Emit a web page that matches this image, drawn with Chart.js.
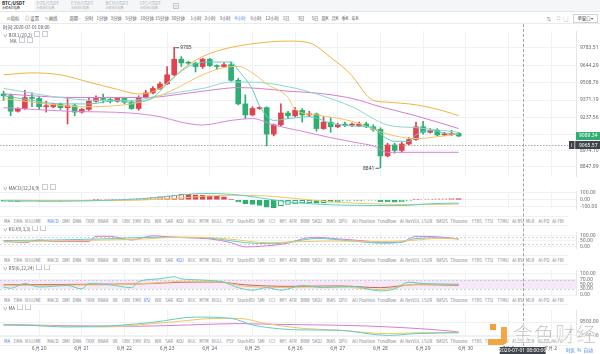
<!DOCTYPE html>
<html lang="zh">
<head>
<meta charset="utf-8">
<title>BTC/USDT 4小时</title>
<script src="https://cdn.jsdelivr.net/npm/chart.js@4.4.1/dist/chart.umd.min.js"></script>
<style>
  body { margin: 0; width: 600px; height: 354px; overflow: hidden; position: relative; background: #fff;
         font-family: "Noto Sans CJK SC", "Noto Sans", sans-serif; color: #333; }
  canvas { position: absolute; left: 0; }
  .abs { position: absolute; white-space: nowrap; }
  #tabs { left: 0; top: 0; width: 600px; height: 11px; background: #f5f6f8; border-bottom: 1px solid #e4e6ea; }
  .tab { position: absolute; top: 0; width: 34px; height: 11px; padding-left: 2px; box-sizing: border-box; color: #a8adb4; }
  .tab b { display: block; font-size: 4.6px; line-height: 5px; font-weight: normal; margin-top: 1px; }
  .tab i { display: block; font-size: 3px; line-height: 4px; font-style: normal; }
  .tab.on { background: #fff; color: #222; }
  .tab.on b { font-weight: bold; }
  #tools { left: 0; top: 12px; width: 600px; height: 11px; border-bottom: 1px solid #e9ebee; }
  #tools span { position: absolute; top: 2.5px; font-size: 4.3px; line-height: 6px; color: #555; transform: translateX(-50%); }
  #tools span.on { color: #3d7fe0; }
  .row { left: 0; width: 568px; height: 8px; background: #fff; border-top: 1px solid #eef0f2; border-bottom: 1px solid #eef0f2; }
  .row span { position: absolute; top: 1px; font-size: 4.2px; line-height: 6px; color: #7d838c; transform: translateX(-50%); }
  .row span.on { color: #3d7fe0; }
  .hd { left: 3px; font-size: 4.6px; line-height: 6px; color: #555; }
  .ic { display: inline-block; width: 4px; height: 4px; border: 0.5px solid #c8cbd0; margin-left: 2px; vertical-align: -0.5px; }
</style>
</head>
<body>

<div id="tabs" class="abs"></div>
<div id="tools" class="abs"></div>

<canvas id="mainChart" width="600" height="159" style="top:24px"></canvas>
<canvas id="macdChart" width="600" height="32" style="top:184px"></canvas>
<canvas id="kdjChart" width="600" height="30" style="top:225px"></canvas>
<canvas id="rsiChart" width="600" height="39" style="top:263px"></canvas>
<canvas id="maChart" width="600" height="51" style="top:303px"></canvas>

<div class="abs hd" style="top:24px">时间:2020-07-01 08:00</div>
<div class="abs hd" style="top:30.5px">∨ BOLL(20,2)<span class="ic"></span><span class="ic"></span></div>
<div class="abs hd" style="top:37px;left:10px">MA<span class="ic"></span><span class="ic"></span></div>
<div class="abs hd" style="top:183.5px">∨ MACD(12,26,9)<span class="ic"></span><span class="ic"></span></div>
<div class="abs hd" style="top:224.5px">∨ KDJ(9,3,3)<span class="ic"></span><span class="ic"></span></div>
<div class="abs hd" style="top:263.5px">∨ RSI(6,12,24)<span class="ic"></span><span class="ic"></span></div>
<div class="abs hd" style="top:304px">∨ MA<span class="ic"></span><span class="ic"></span></div>

<div class="abs row" id="row1" style="top:216px"></div>
<div class="abs row" id="row2" style="top:255px"></div>
<div class="abs row" id="row3" style="top:295px"></div>
<div class="abs row" id="row4" style="top:336px"></div>

<div id="crossLine" class="abs" style="top:24px;height:322px;border-left:1px dashed #9da2a9"></div>

<!-- watermark -->
<div class="abs" style="left:490px;top:324px;width:6px;height:6px;background:#f2a23a"></div>
<div class="abs" style="left:488px;top:327px;width:13px;height:12px;border-right:6px solid #f2a23a;border-bottom:6px solid #f2a23a;border-bottom-right-radius:5px;opacity:.95"></div>
<div class="abs" style="left:513px;top:321px;font-size:20px;line-height:26px;color:rgba(175,175,175,.85);-webkit-text-stroke:0.6px #fff;letter-spacing:1px">金色财经</div>
<div class="abs" style="left:566px;top:347px;font-size:4.6px;color:#3d7fe0">时区 &nbsp;% &nbsp;自动</div>

<script>
// candles, 4 hour, BTC/USDT
const opens  = [9419,9405,9284,9305,9391,9384,9319,9319,9341,9312,9327,9277,9298,9362,9380,9376,9362,9384,9355,9305,
                9391,9427,9462,9498,9569,9691,9662,9660,9634,9691,9641,9634,9648,9526,9341,9255,9305,9312,9105,9177,
                9270,9248,9291,9255,9262,9148,9198,9162,9177,9175,9169,9184,9162,9141,8934,9020,8977,9027,9062,9162,
                9119,9134,9098,9102,9110];
const highs  = [9441,9419,9312,9448,9427,9398,9362,9348,9348,9391,9341,9305,9391,9405,9419,9384,9391,9391,9369,9405,
                9448,9476,9512,9634,9785,9712,9676,9669,9698,9698,9648,9662,9669,9541,9412,9319,9319,9319,9184,9341,
                9284,9312,9305,9284,9270,9241,9234,9191,9198,9191,9198,9198,9177,9155,9034,9034,9041,9077,9198,9205,
                9148,9148,9119,9134,9119];
const lows   = [9369,9248,9277,9298,9319,9298,9277,9312,9298,9184,9248,9270,9291,9355,9348,9348,9355,9341,9298,9291,
                9384,9419,9455,9491,9562,9634,9648,9591,9619,9634,9612,9626,9519,9334,9227,9248,9298,9012,9091,9169,
                9227,9241,9198,9241,9127,9141,9119,9155,9162,9162,9162,9155,9127,8841,8927,8955,8962,9020,9055,9105,
                9112,9091,9091,9091,9085];
const closes = [9405,9284,9305,9391,9384,9319,9323,9341,9312,9327,9277,9298,9362,9384,9376,9362,9384,9355,9305,9391,
                9427,9462,9498,9569,9691,9662,9660,9634,9691,9641,9634,9648,9526,9341,9255,9305,9312,9105,9177,9270,
                9248,9291,9255,9262,9148,9198,9162,9177,9175,9176,9184,9162,9141,8934,9020,8977,9027,9062,9162,9119,
                9134,9098,9102,9110,9089.34];

// overlay lines on the price panel: [candle index, price]
const bollUp  = [[0,9569],[4,9584],[8,9569],[12,9512],[16,9455],[19,9419],[22,9462],[24,9555],[26,9648],[28,9712],
                 [30,9755],[32,9784],[36,9819],[40,9833],[43,9819],[46,9705],[49,9562],[51,9412],[52,9369],[54,9355],
                 [58,9334],[62,9284],[64,9248]];
const bollMid = [[0,9419],[10,9391],[20,9391],[26,9426],[30,9455],[33,9469],[36,9462],[40,9441],[44,9426],[49,9384],
                 [53,9319],[58,9248],[64,9148]];
const bollLow = [[0,9312],[9,9284],[18,9269],[22,9241],[25,9198],[28,9176],[32,9212],[35,9226],[38,9176],[42,9127],
                 [46,9077],[50,9034],[52,9012],[54,8962],[58,8962],[64,8962]];
const maFast  = [[0,9405],[4,9369],[8,9341],[12,9341],[16,9369],[18,9355],[21,9391],[23,9498],[26,9634],[29,9669],
                 [32,9669],[33,9605],[35,9455],[36,9326],[38,9212],[40,9226],[43,9241],[46,9191],[49,9169],[52,9155],
                 [53,9105],[55,9048],[57,9048],[58,9098],[60,9134],[62,9112],[64,9105]];
const maMid   = [[0,9384],[5,9348],[11,9319],[18,9341],[21,9384],[24,9455],[28,9569],[31,9626],[33,9634],[35,9584],
                 [37,9498],[40,9391],[41,9298],[44,9255],[49,9205],[54,9105],[58,9069],[61,9084],[64,9105]];
const maSlow  = [[0,9462],[9,9384],[14,9369],[18,9369],[23,9419],[28,9462],[32,9512],[35,9512],[40,9476],[44,9419],
                 [49,9319],[54,9176],[58,9155],[64,9119]];

// MACD(12,26,9)
const macdHist = [-18,-22,-24,-20,-16,-20,-18,-16,-20,-16,-12,-8,-3,4,8,10,12,10,14,20,
                  26,34,42,54,66,80,78,70,64,58,50,44,8,-28,-56,-66,-80,-104,-112,-84,
                  -64,-56,-44,-40,-48,-40,-32,-24,-16,-12,-10,-8,-6,-24,-28,-32,-26,-14,4,8,
                  12,14,16,18,17];
const macdDif = [[0,-15],[8,-20],[16,0],[20,20],[24,60],[28,90],[32,80],[36,30],[40,-30],[44,-60],[48,-75],[52,-80],[56,-80],[60,-55],[64,-45]];
const macdDea = [[0,-5],[8,-10],[16,-10],[20,0],[24,20],[28,50],[32,65],[36,60],[40,30],[44,-10],[48,-40],[52,-55],[56,-65],[60,-65],[64,-60]];

// KDJ(9,3,3)
const kdjK = [[0,38],[7,48],[14,57],[20,67],[24,81],[28,81],[33,57],[37,33],[42,43],[47,48],[53,43],[58,57],[61,71],[64,67]];
const kdjD = [[0,52],[7,57],[14,67],[21,81],[26,81],[30,67],[34,33],[38,24],[42,57],[44,71],[49,48],[53,29],[56,38],[58,71],[61,76],[64,67]];
const kdjJ = [[0,48],[3,33],[5,57],[7,43],[12,43],[13,90],[15,90],[18,57],[21,95],[23,86],[26,76],[29,67],[32,33],[34,-5],
              [37,5],[40,29],[42,67],[44,81],[47,67],[51,48],[53,33],[56,38],[57,67],[58,90],[61,86],[64,67]];

// RSI(6,12,24)
const rsi6  = [[0,37],[1,31],[3,53],[5,37],[9,44],[11,28],[12,53],[15,47],[18,34],[19,62],[22,75],[24,84],[25,75],[28,69],
               [31,59],[33,34],[35,22],[37,34],[39,22],[42,44],[45,34],[49,40],[53,19],[55,28],[57,59],[59,53],[64,50]];
const rsi12 = [[0,44],[14,47],[20,53],[25,62],[30,62],[34,40],[40,35],[47,38],[53,25],[58,50],[64,48]];
const rsi24 = [[0,47],[14,50],[20,52],[25,59],[30,60],[34,47],[40,40],[47,42],[53,34],[58,48],[64,45]];

// lower MA panel
const maTeal   = [[0,9391],[4,9373],[9,9315],[16,9373],[21,9491],[27,9685],[32,9638],[35,9391],[39,9244],[42,9206],[47,9197],[54,9000],[58,9068],[64,9097]];
const maYellow = [[0,9391],[9,9344],[14,9315],[19,9391],[25,9538],[30,9638],[33,9638],[37,9441],[42,9265],[47,9197],[54,9068],[58,9097],[64,9118]];
const maPink   = [[0,9412],[9,9362],[19,9344],[26,9391],[33,9441],[37,9420],[42,9400],[51,9353],[61,9206],[64,9127]];

// axis ticks
const mainTicks = [9783.51, 9644.29, 9508.76, 9371.19, 9237.56, 9103.45, 8974.10, 8847.99];
const macdTicks = [100, 0, -100];
const kdjTicks  = [100, 50, 0];
const rsiTicks  = [100, 70, 50, 30, 0];
const maTicks   = [9500, 9000];
const dayIdx    = [5, 11, 17, 23, 29, 35, 41, 47, 53, 59, 65, 71, 77];
const dayLabels = ['6月 20','6月 21','6月 22','6月 23','6月 24','6月 25','6月 26','6月 27','6月 28','6月 29','6月 30','7月 1','7月 2'];

// crosshair
const crossIdx = 73;
const crossLevel = 9020;          // where the dotted price line sits
const crossText = '9065.57';
const crossTime = '2020-07-01 08:00:00';

const RED = '#e0434f', GREEN = '#2fae74';
const TEAL = '#5fcfc2', YELLOW = '#f3c462', ORANGE = '#f2b243', PINK = '#d985d8', MAGENTA = '#d77bd6', BROWN = '#c9645c';

Chart.defaults.font.family = '"Noto Sans", sans-serif';
Chart.defaults.animation = false;
Chart.defaults.events = [];
Chart.defaults.plugins.legend.display = false;
Chart.defaults.plugins.tooltip.enabled = false;

// header tabs + toolbar
const tabNames = ['BTC/USDT', 'EOS/USDT', 'ETH/USDT', 'BCH/USDT', 'LTC/USDT'];
document.getElementById('tabs').innerHTML = tabNames.map((n, i) =>
  `<div class="tab${i === 0 ? ' on' : ''}" style="left:${i * 34.5}px"><b>${n}</b><i>永续合约指数</i></div>`).join('') +
  '<div class="abs" style="left:173px;top:3px;width:4px;height:4px;border:0.5px solid #c3c6cb;font-size:4px;line-height:4px;text-align:center;color:#999">×</div>';

const toolItems = [['⊡ 指标',13],['◎ 设置',32],['✎ 画线',51],['周期 -',75],['分时',89],['1分钟',102],['3分钟',116],['5分钟',131],
  ['10分钟',147],['15分钟',162],['30分钟',178],['1小时',196],['2小时',210],['3小时',225],['4小时',240],['6小时',256],
  ['12小时',272],['1日',286],['3日',301],['5日',315],['周K',325],['月K',335],['季K',345],['年K',355],
  ['⇅',549],['⛶',558],['▢',566]];
document.getElementById('tools').innerHTML = toolItems.map(t =>
  `<span class="${t[0] === '4小时' ? 'on' : ''}" style="left:${t[1]}px">${t[0]}</span>`).join('') +
  '<div class="abs" style="left:573px;top:2px;width:23px;height:7px;border:0.5px solid #cfd2d6;font-size:4.3px;line-height:7px;text-align:center;color:#444">单窗口 ▾</div>';

// indicator switch rows
const indNames = ['MA','EMA','VOLUME','MACD','DMI','DMA','TRIX','BRAR','VR','OBV','EMV','RSI','WR','SAR','KDJ','ROC','MTM',
  'BOLL','PSY','StochRSI','SMI','CCI','MFI','ATR','BBW','SKDJ','BIAS','DPO','AO','Position','Fundflow','AI-NetVOL',
  'LSUR','BASIS','TVolume','FTBS','TTSI','TTMU','AI-BSI','MLR','AI-PD','AI-FBI'];
const indPos = [7,18,33,53,66,77,90,103,115,126,137,147,158,169,180,192,204,217,230,246,261,272,283,293,
  305,317,331,343,355,367,387,410,427,442,459,477,489,503,518,530,544,558];
[['row1','MACD'],['row2','KDJ'],['row3','RSI'],['row4','MA']].forEach(([id, act]) => {
  document.getElementById(id).innerHTML = indNames.map((n, i) =>
    `<span class="${n === act ? 'on' : ''}" style="left:${indPos[i]}px">${n}</span>`).join('');
});

// shared helpers
function xAxis(showDates) {
  return {
    type: 'linear', min: -0.5, max: 80.5, offset: false,
    afterBuildTicks: s => { s.ticks = dayIdx.map(v => ({ value: v })); },
    afterFit: s => { s.height = showDates ? 17 : 0; },
    ticks: { display: showDates, autoSkip: false, maxRotation: 0, padding: 9,
             callback: v => dayLabels[dayIdx.indexOf(v)], font: { size: 5 }, color: '#666' },
    grid: { color: '#f0f1f4', drawTicks: false, offset: false },
    border: { display: false }
  };
}
function yAxis(min, max, ticks) {
  return {
    position: 'right', min: min, max: max,
    afterFit: s => { s.width = 24; },
    afterBuildTicks: s => { s.ticks = ticks.map(v => ({ value: v })); },
    ticks: { autoSkip: false, padding: 4, callback: v => v.toFixed(2), font: { size: 5 }, color: '#666' },
    grid: { color: '#f0f1f4', drawTicks: false },
    border: { display: true, color: '#e4e6e9' }
  };
}
function line(pts, color) {
  return { type: 'line', data: pts.map(p => ({ x: p[0], y: p[1] })), borderColor: color, borderWidth: 1,
           pointRadius: 0, cubicInterpolationMode: 'monotone', fill: false, order: 0 };
}

// dashed guide lines / shaded band in oscillator panels
const levels = {
  id: 'levels',
  beforeDatasetsDraw(chart, args, opts) {
    if (!opts.lines) return;
    const { ctx, chartArea: a, scales: { y } } = chart;
    ctx.save();
    if (opts.band) {
      const t = y.getPixelForValue(opts.band[1]), b = y.getPixelForValue(opts.band[0]);
      ctx.fillStyle = '#f6e7f9';
      ctx.fillRect(a.left, t, a.right - a.left, b - t);
    }
    ctx.strokeStyle = '#c4c8ce'; ctx.lineWidth = 0.8; ctx.setLineDash([2, 2]);
    opts.lines.forEach(v => {
      const py = Math.round(y.getPixelForValue(v)) + 0.5;
      ctx.beginPath(); ctx.moveTo(a.left, py); ctx.lineTo(a.right, py); ctx.stroke();
    });
    ctx.restore();
  }
};

// price panel extras: high/low notes, price line, right-axis price tags
const priceMarks = {
  id: 'priceMarks',
  afterDraw(chart) {
    const { ctx, chartArea: a, scales: { x, y } } = chart;
    ctx.save();
    ctx.font = '5px "Noto Sans", sans-serif';
    ctx.textBaseline = 'middle';

    const hi = Math.max(...highs), hiI = highs.indexOf(hi);
    const lo = Math.min(...lows), loI = lows.indexOf(lo);
    let px = x.getPixelForValue(hiI), py = y.getPixelForValue(hi);
    ctx.strokeStyle = '#333'; ctx.lineWidth = 0.8;
    ctx.beginPath(); ctx.moveTo(px + 1, py + 0.5); ctx.lineTo(px + 5, py + 0.5); ctx.stroke();
    ctx.fillStyle = '#333'; ctx.textAlign = 'left';
    ctx.fillText(String(Math.round(hi)), px + 6, py + 0.5);
    px = x.getPixelForValue(loI); py = y.getPixelForValue(lo);
    ctx.beginPath(); ctx.moveTo(px - 5, py + 0.5); ctx.lineTo(px - 1, py + 0.5); ctx.stroke();
    ctx.textAlign = 'right';
    ctx.fillText(String(Math.round(lo)), px - 6, py + 0.5);

    // dotted price line
    const cy = Math.round(y.getPixelForValue(crossLevel)) + 0.5;
    ctx.strokeStyle = '#8f949b'; ctx.setLineDash([1.5, 1.5]);
    ctx.beginPath(); ctx.moveTo(a.left, cy); ctx.lineTo(a.right, cy); ctx.stroke();
    ctx.setLineDash([]);

    // last price tag
    const last = closes[closes.length - 1];
    const ly = y.getPixelForValue(last);
    ctx.fillStyle = GREEN; ctx.fillRect(a.right, ly - 4, 24, 8);
    ctx.fillStyle = '#fff'; ctx.textAlign = 'left';
    ctx.fillText(last.toFixed(2), a.right + 3, ly);

    // crosshair price tag
    ctx.fillStyle = '#3f434a'; ctx.fillRect(a.right - 7, cy - 4.5, 31, 8);
    ctx.fillStyle = '#fff'; ctx.fillRect(a.right - 1.5, cy - 4.5, 0.7, 8);
    ctx.fillText('i', a.right - 5, cy);
    ctx.fillText(crossText, a.right + 3, cy);
    ctx.restore();
  }
};

// time tag at the bottom of the lowest panel
const timeTag = {
  id: 'timeTag',
  afterDraw(chart) {
    const { ctx, scales: { x } } = chart;
    const cx = x.getPixelForValue(crossIdx);
    ctx.save();
    ctx.fillStyle = '#3f434a';
    ctx.fillRect(cx - 23, 44, 46, 7);
    ctx.fillStyle = '#fff'; ctx.font = '5px "Noto Sans", sans-serif';
    ctx.textAlign = 'center'; ctx.textBaseline = 'middle';
    ctx.fillText(crossTime, cx, 47.5);
    ctx.restore();
  }
};

// price panel
const idx = opens.map((_, i) => i);
const candleColor = idx.map(i => closes[i] >= opens[i] ? RED : GREEN);
const mainChart = new Chart(document.getElementById('mainChart'), {
  type: 'bar',
  data: {
    datasets: [
      line(maFast, TEAL), line(maMid, YELLOW), line(maSlow, '#8ad9cf'),
      line(bollUp, ORANGE), line(bollMid, MAGENTA), line(bollLow, PINK),
      { type: 'bar', data: idx.map(i => ({ x: i, y: [opens[i], closes[i]] })), backgroundColor: candleColor,
        barThickness: 5, minBarLength: 1, grouped: false, order: 2 },
      { type: 'bar', data: idx.map(i => ({ x: i, y: [lows[i], highs[i]] })), backgroundColor: candleColor,
        barThickness: 1, grouped: false, order: 3 }
    ]
  },
  options: {
    responsive: false,
    devicePixelRatio: 1,
    layout: { padding: 0 },
    scales: { x: xAxis(false), y: yAxis(8776.6, 9912.1, mainTicks) }
  },
  plugins: [priceMarks]
});

// MACD panel (hollow bar when the histogram rises)
const macdFill = macdHist.map((v, i) => (i > 0 && v > macdHist[i - 1]) ? '#fff' : (v >= 0 ? RED : GREEN));
new Chart(document.getElementById('macdChart'), {
  type: 'bar',
  data: {
    datasets: [
      line(macdDif, TEAL), line(macdDea, YELLOW),
      { type: 'bar', data: macdHist.map((v, i) => ({ x: i, y: v })), backgroundColor: macdFill,
        borderColor: macdHist.map(v => v >= 0 ? RED : GREEN), borderWidth: 1, borderSkipped: false,
        barThickness: 5, grouped: false, order: 2 }
    ]
  },
  options: { responsive: false, devicePixelRatio: 1, layout: { padding: 0 },
             scales: { x: xAxis(false), y: yAxis(-129.6, 126, macdTicks) } }
});

// KDJ panel
new Chart(document.getElementById('kdjChart'), {
  type: 'line',
  data: { datasets: [line(kdjK, YELLOW), line(kdjD, TEAL), line(kdjJ, MAGENTA)] },
  options: { responsive: false, devicePixelRatio: 1, layout: { padding: 0 },
             plugins: { levels: { lines: [80, 20] } },
             scales: { x: xAxis(false), y: yAxis(-14.3, 128.6, kdjTicks) } },
  plugins: [levels]
});

// RSI panel
new Chart(document.getElementById('rsiChart'), {
  type: 'line',
  data: { datasets: [line(rsi6, TEAL), line(rsi12, YELLOW), line(rsi24, BROWN)] },
  options: { responsive: false, devicePixelRatio: 1, layout: { padding: { bottom: 3 } },
             plugins: { levels: { lines: [70, 30], band: [30, 70] } },
             scales: { x: xAxis(false), y: yAxis(0, 115.6, rsiTicks) } },
  plugins: [levels]
});

// lower MA panel with the date axis
new Chart(document.getElementById('maChart'), {
  type: 'line',
  data: { datasets: [line(maTeal, TEAL), line(maYellow, YELLOW), line(maPink, MAGENTA)] },
  options: { responsive: false, devicePixelRatio: 1, layout: { padding: 0 },
             scales: { x: xAxis(true), y: yAxis(8941, 9950, maTicks) } },
  plugins: [timeTag]
});

// vertical crosshair through all panels
document.getElementById('crossLine').style.left = Math.round(mainChart.scales.x.getPixelForValue(crossIdx)) + 'px';
</script>
</body>
</html>
